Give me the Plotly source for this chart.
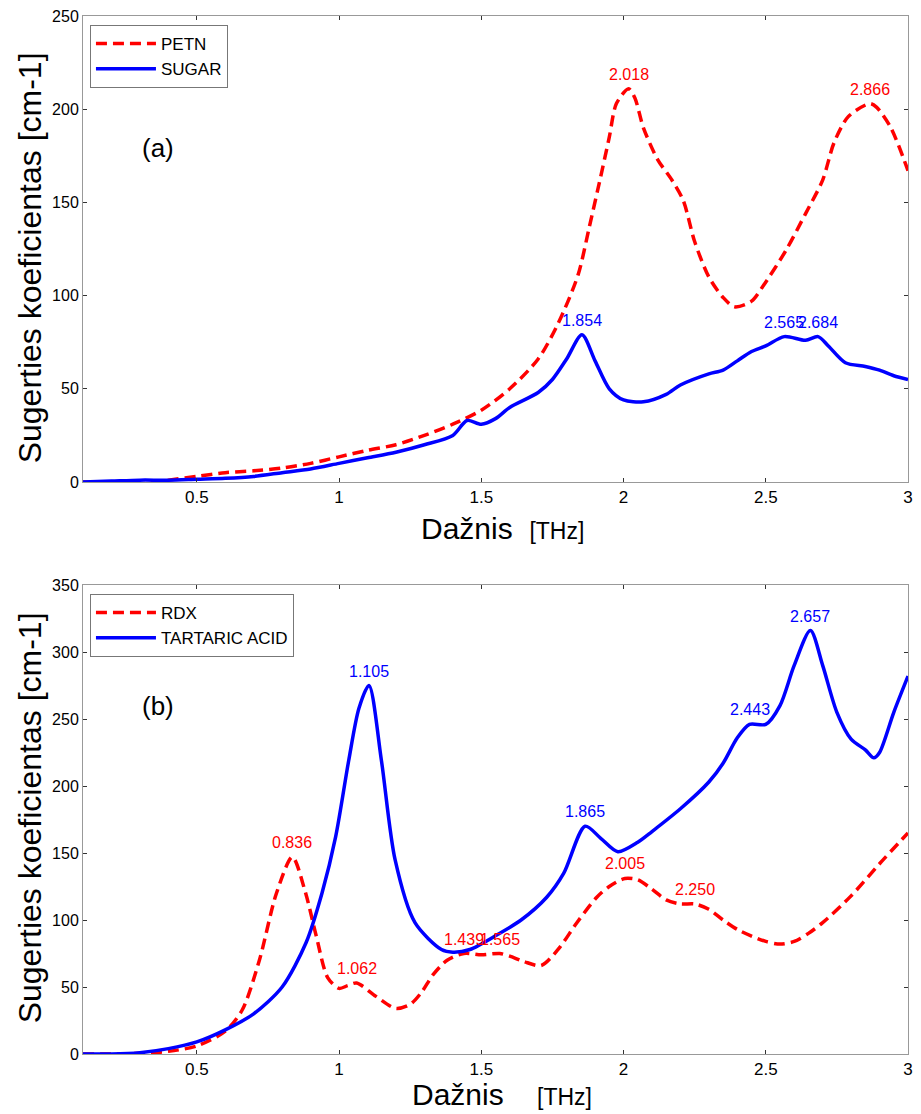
import plotly.graph_objects as go

# ---- Panel (a) data ----
petn_x = [0.10, 0.20, 0.30, 0.40, 0.50, 0.60, 0.70, 0.80, 0.90, 1.00, 1.10, 1.20, 1.30, 1.40, 1.50,
          1.60, 1.70, 1.77, 1.84, 1.88, 1.92, 1.95, 1.975, 2.018, 2.04, 2.07, 2.12, 2.17, 2.21, 2.25,
          2.30, 2.35, 2.39, 2.45, 2.49, 2.57, 2.64, 2.70, 2.74, 2.79, 2.866, 2.89, 2.94, 3.00]
petn_y = [0.0, -0.5, -1.0, 1.0, 3.0, 5.0, 6.0, 7.5, 10.0, 13.5, 17.0, 20.0, 25.0, 31.0, 38.5,
          50.0, 66.0, 85.0, 111.0, 137.0, 164.0, 185.0, 203.0, 211.0, 206.0, 190.0, 173.0, 162.0, 151.0, 129.0,
          110.0, 99.0, 94.0, 97.0, 105.0, 124.0, 144.0, 162.0, 182.0, 196.0, 203.0, 201.0, 190.0, 167.0]

sugar_x = [0.10, 0.20, 0.30, 0.40, 0.50, 0.60, 0.70, 0.80, 0.90, 1.00, 1.10, 1.20, 1.30, 1.40, 1.45,
           1.50, 1.55, 1.60, 1.70, 1.75, 1.80, 1.854, 1.90, 1.95, 2.00, 2.07, 2.15, 2.20, 2.30, 2.35,
           2.40, 2.45, 2.50, 2.565, 2.64, 2.684, 2.72, 2.78, 2.85, 2.90, 2.95, 3.00]
sugar_y = [0.0, 0.5, 1.0, 1.0, 1.5, 2.0, 3.0, 5.0, 7.0, 10.0, 13.0, 16.0, 20.0, 25.0, 33.0,
           31.0, 34.0, 40.0, 48.0, 55.0, 66.0, 79.0, 65.0, 50.0, 44.0, 43.0, 47.0, 52.0, 58.0, 60.0,
           65.0, 70.0, 73.0, 78.0, 76.0, 78.0, 73.0, 64.0, 62.0, 60.0, 57.0, 55.0]

# ---- Panel (b) data ----
rdx_x = [0.10, 0.20, 0.30, 0.40, 0.50, 0.60, 0.66, 0.72, 0.78, 0.836, 0.88, 0.92, 0.96, 1.00,
         1.03, 1.062, 1.13, 1.20, 1.25, 1.29, 1.33, 1.38, 1.439, 1.50, 1.565, 1.60, 1.65, 1.71,
         1.77, 1.836, 1.906, 1.95, 2.005, 2.05, 2.10, 2.15, 2.20, 2.25, 2.30, 2.35, 2.40, 2.45,
         2.50, 2.55, 2.60, 2.65, 2.70, 2.80, 2.90, 3.00]
rdx_y = [0.0, 0.0, 0.5, 2.0, 6.0, 17.0, 33.0, 70.0, 120.0, 147.0, 122.0, 88.0, 57.0, 49.0,
         51.0, 53.0, 43.0, 34.0, 37.0, 46.0, 59.0, 70.0, 75.0, 74.0, 75.0, 73.0, 69.0, 66.0,
         78.0, 98.0, 117.0, 125.0, 131.0, 130.0, 123.0, 115.0, 112.0, 112.0, 108.0, 100.0, 93.0, 88.0,
         84.0, 82.0, 84.0, 90.0, 98.0, 118.0, 142.0, 165.0]

tart_x = [0.10, 0.20, 0.30, 0.40, 0.50, 0.60, 0.70, 0.80, 0.884, 0.94, 0.988, 1.034, 1.07, 1.105, 1.149,
          1.197, 1.267, 1.36, 1.40, 1.46, 1.556, 1.64, 1.73, 1.79, 1.865, 1.92, 1.98,
          2.05, 2.10, 2.20, 2.30, 2.35, 2.40, 2.443, 2.50, 2.55, 2.60, 2.657, 2.70, 2.75, 2.80, 2.85,
          2.88, 2.90, 2.95, 3.00]
tart_y = [0.0, 0.0, 1.0, 4.0, 9.0, 18.0, 30.0, 50.0, 83.0, 120.0, 162.0, 219.0, 258.0, 275.0, 219.0,
          145.0, 98.0, 78.0, 76.0, 78.0, 89.0, 100.0, 117.0, 135.0, 170.0, 161.0, 151.0,
          158.0, 166.0, 183.0, 203.0, 217.0, 236.0, 246.0, 246.0, 260.0, 290.0, 316.0, 290.0, 255.0, 235.0, 227.0,
          221.0, 225.0, 255.0, 282.0]

# peak labels
peaks_a_red = [2.018, 2.866]
peaks_a_blue = [1.854, 2.565, 2.684]
peaks_b_red = [0.836, 1.062, 1.439, 1.565, 2.005, 2.250]
peaks_b_blue = [1.105, 1.865, 2.443, 2.657]

x_ticks = [0.5, 1, 1.5, 2, 2.5, 3]
x_ticklabels = ["0.5", "1", "1.5", "2", "2.5", "3"]
ya_ticks = [0, 50, 100, 150, 200, 250]
yb_ticks = [0, 50, 100, 150, 200, 250, 300, 350]

RED = "#ff0000"
BLUE = "#0000ff"
FONT = "Liberation Sans, Arial, sans-serif"
NARROW = "Liberation Sans Narrow, Liberation Sans, Arial, sans-serif"
DASH = "11px,6px"


def interp(xs, ys, x):
    for i in range(len(xs) - 1):
        if xs[i] <= x <= xs[i + 1]:
            t = (x - xs[i]) / (xs[i + 1] - xs[i])
            return ys[i] + t * (ys[i + 1] - ys[i])
    return ys[-1]


fig = go.Figure()
fig.add_trace(go.Scatter(x=petn_x, y=petn_y, name="PETN", mode="lines", line_shape="spline",
                         line=dict(color=RED, width=3.5, dash=DASH, smoothing=0.8), xaxis="x", yaxis="y", legend="legend"))
fig.add_trace(go.Scatter(x=sugar_x, y=sugar_y, name="SUGAR", mode="lines", line_shape="spline",
                         line=dict(color=BLUE, width=3.5, smoothing=0.8), xaxis="x", yaxis="y", legend="legend"))
fig.add_trace(go.Scatter(x=rdx_x, y=rdx_y, name="RDX", mode="lines", line_shape="spline",
                         line=dict(color=RED, width=3.5, dash=DASH, smoothing=0.8), xaxis="x2", yaxis="y2", legend="legend2"))
fig.add_trace(go.Scatter(x=tart_x, y=tart_y, name="TARTARIC ACID", mode="lines", line_shape="spline",
                         line=dict(color=BLUE, width=3.5, smoothing=0.8), xaxis="x2", yaxis="y2", legend="legend2"))

ann = []
for xs, ys, pk, col, xr, yr in [
    (petn_x, petn_y, peaks_a_red, RED, "x", "y"),
    (sugar_x, sugar_y, peaks_a_blue, BLUE, "x", "y"),
    (rdx_x, rdx_y, peaks_b_red, RED, "x2", "y2"),
    (tart_x, tart_y, peaks_b_blue, BLUE, "x2", "y2"),
]:
    for p in pk:
        ann.append(dict(x=p, y=interp(xs, ys, p), xref=xr, yref=yr, text=f"{p:.3f}",
                        showarrow=False, yanchor="bottom", xanchor="center", yshift=4,
                        font=dict(family=FONT, size=16, color=col)))

ann += [
    dict(x=0.1 + (158 - 83) / 830 * 2.9, y=179, xref="x", yref="y", text="(a)", showarrow=False,
         xanchor="center", yanchor="middle", font=dict(family=FONT, size=26, color="black")),
    dict(x=0.1 + (158 - 83) / 830 * 2.9, y=260, xref="x2", yref="y2", text="(b)", showarrow=False,
         xanchor="center", yanchor="middle", font=dict(family=FONT, size=26, color="black")),
    dict(x=(505 - 83) / 830, y=(1054 - 528) / 1038, xref="paper", yref="paper",
         text="Dažnis  <span style='font-family:Liberation Sans Narrow, Liberation Sans; font-size:23px'>[THz]</span>",
         showarrow=False, xanchor="center", yanchor="middle", font=dict(family=FONT, size=30, color="black")),
    dict(x=(505 - 83) / 830, y=(1054 - 1094) / 1038, xref="paper", yref="paper",
         text="Dažnis    <span style='font-family:Liberation Sans Narrow, Liberation Sans; font-size:23px'>[THz]</span>",
         showarrow=False, xanchor="center", yanchor="middle", font=dict(family=FONT, size=30, color="black")),
    dict(x=-(83 - 30) / 830, y=(1054 - 258) / 1038, xref="paper", yref="paper",
         text="Sugerties koeficientas [cm-1]", textangle=-90, showarrow=False,
         xanchor="center", yanchor="middle", font=dict(family=FONT, size=32, color="black")),
    dict(x=-(83 - 30) / 830, y=(1054 - 818) / 1038, xref="paper", yref="paper",
         text="Sugerties koeficientas [cm-1]", textangle=-90, showarrow=False,
         xanchor="center", yanchor="middle", font=dict(family=FONT, size=32, color="black")),
]

common_x = dict(range=[0.1, 3], tickvals=x_ticks, ticktext=x_ticklabels, ticks="inside", ticklen=4,
                tickcolor="#333", showline=True, linecolor="#999", linewidth=1, mirror="ticks",
                showgrid=False, zeroline=False, tickfont=dict(family=NARROW, size=17, color="black"))
common_y = dict(ticks="inside", ticklen=4, tickcolor="#333", showline=True, linecolor="#999",
                linewidth=1, mirror="ticks", showgrid=False, zeroline=False,
                tickfont=dict(family=FONT, size=16, color="black"))

leg_common = dict(bgcolor="white", bordercolor="#777", borderwidth=1,
                  font=dict(family=FONT, size=17, color="black"), xanchor="left", yanchor="top",
                  itemwidth=60, tracegroupgap=0)

fig.update_layout(
    width=921, height=1114,
    margin=dict(l=83, r=8, t=16, b=60),
    paper_bgcolor="white", plot_bgcolor="white",
    xaxis=dict(domain=[0, 1], anchor="y", **common_x),
    yaxis=dict(domain=[(1054 - 482) / 1038, 1], anchor="x", range=[0, 250], tickvals=ya_ticks, **common_y),
    xaxis2=dict(domain=[0, 1], anchor="y2", **common_x),
    yaxis2=dict(domain=[0, (1054 - 585) / 1038], anchor="x2", range=[0, 350], tickvals=yb_ticks, **common_y),
    legend=dict(x=(90 - 83) / 830, y=(1054 - 25) / 1038, **leg_common),
    legend2=dict(x=(90 - 83) / 830, y=(1054 - 594) / 1038, **leg_common),
    annotations=ann,
    showlegend=True,
)

fig.write_html("out.html")
